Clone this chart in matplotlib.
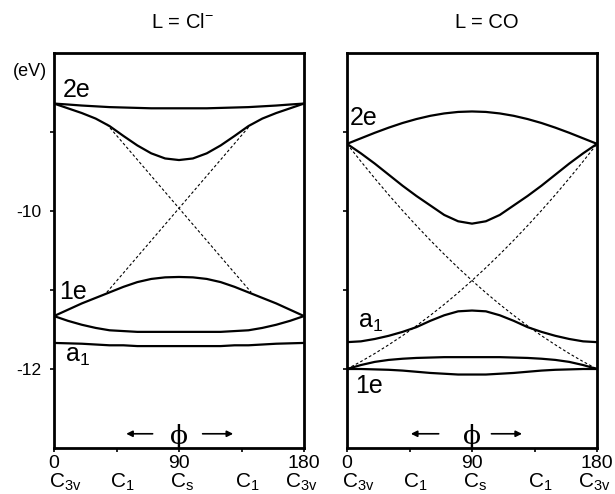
import numpy as np
import matplotlib
matplotlib.use('Agg')
import matplotlib.pyplot as plt

plt.rcParams['font.family'] = ['Liberation Sans', 'DejaVu Sans']
plt.rcParams['mathtext.fontset'] = 'custom'
plt.rcParams['mathtext.rm'] = 'Liberation Sans'
plt.rcParams['mathtext.it'] = 'Liberation Sans'

# угол phi, шаг 10 градусов
phi = list(range(0, 181, 10))

# --- L = Cl- ---
cl_2e_up = [-8.64, -8.652, -8.665, -8.675, -8.685, -8.69, -8.695, -8.70, -8.70, -8.70,
            -8.70, -8.70, -8.695, -8.69, -8.685, -8.675, -8.665, -8.652, -8.64]
cl_2e_lo = [-8.64, -8.70, -8.76, -8.83, -8.925, -9.05, -9.17, -9.27, -9.335, -9.355,
            -9.335, -9.27, -9.17, -9.05, -8.925, -8.83, -8.76, -8.70, -8.64]
cl_1e_up = [-11.33, -11.25, -11.17, -11.10, -11.03, -10.96, -10.90, -10.86, -10.84, -10.835,
            -10.84, -10.86, -10.90, -10.96, -11.03, -11.10, -11.17, -11.25, -11.33]
cl_1e_lo = [-11.33, -11.39, -11.44, -11.48, -11.51, -11.52, -11.53, -11.53, -11.53, -11.53,
            -11.53, -11.53, -11.53, -11.52, -11.51, -11.48, -11.44, -11.39, -11.33]
cl_a1 = [-11.67, -11.675, -11.68, -11.69, -11.70, -11.70, -11.71, -11.71, -11.71, -11.71,
         -11.71, -11.71, -11.71, -11.70, -11.70, -11.69, -11.68, -11.675, -11.67]
# пунктир (диабатические кривые), виден только между адиабатическими кривыми
cl_phi_d = [38, 142]
cl_d_up = [-11.03, -8.90]
cl_d_dn = [-8.90, -11.03]

# --- L = CO ---
co_2e_up = [-9.15, -9.08, -9.01, -8.945, -8.886, -8.836, -8.795, -8.765, -8.746, -8.74,
            -8.746, -8.765, -8.795, -8.836, -8.886, -8.945, -9.01, -9.08, -9.15]
co_2e_lo = [-9.15, -9.27, -9.40, -9.54, -9.68, -9.81, -9.93, -10.05, -10.13, -10.16,
            -10.13, -10.05, -9.93, -9.81, -9.68, -9.54, -9.40, -9.27, -9.15]
co_a1 = [-11.66, -11.65, -11.62, -11.58, -11.53, -11.47, -11.39, -11.32, -11.27, -11.26,
         -11.27, -11.32, -11.39, -11.47, -11.53, -11.58, -11.62, -11.65, -11.66]
co_1e_up = [-12.0, -11.95, -11.91, -11.885, -11.87, -11.86, -11.855, -11.85, -11.85, -11.85,
            -11.85, -11.85, -11.855, -11.86, -11.87, -11.885, -11.91, -11.95, -12.0]
co_1e_lo = [-12.0, -12.0, -12.005, -12.01, -12.02, -12.035, -12.05, -12.06, -12.07, -12.07,
            -12.07, -12.06, -12.05, -12.035, -12.02, -12.01, -12.005, -12.0, -12.0]
co_d_up = [-12.0, -11.906, -11.804, -11.694, -11.578, -11.453, -11.321, -11.182, -11.035, -10.88,
           -10.718, -10.548, -10.371, -10.186, -9.994, -9.795, -9.587, -9.372, -9.15]
co_d_dn = co_d_up[::-1]

titles = ['L = Cl$^{-}$', 'L = CO']
sym_labels = ['C$_\\mathrm{3v}$', 'C$_\\mathrm{1}$', 'C$_\\mathrm{s}$', 'C$_\\mathrm{1}$', 'C$_\\mathrm{3v}$']
sym_pos = [8, 49, 92, 139, 178]
# стрелки под phi: (левая, правая) для каждой панели
arrows = [((50, 73), (105, 131)), ((44, 68), (102, 128))]

fig = plt.figure(figsize=(6.15, 4.94), dpi=100)
ax1 = fig.add_axes([54 / 615, 46 / 494, 250 / 615, 395 / 494])
ax2 = fig.add_axes([347 / 615, 46 / 494, 250 / 615, 395 / 494])

lw = 1.6
dash = (0, (2.5, 2))
ax1.plot(cl_phi_d, cl_d_up, color='black', lw=0.8, ls=dash)
ax1.plot(cl_phi_d, cl_d_dn, color='black', lw=0.8, ls=dash)
for curve in [cl_2e_up, cl_2e_lo, cl_1e_up, cl_1e_lo, cl_a1]:
    ax1.plot(phi, curve, color='black', lw=lw, solid_joinstyle='round')

ax2.plot(phi, co_d_up, color='black', lw=0.8, ls=dash)
ax2.plot(phi, co_d_dn, color='black', lw=0.8, ls=dash)
for curve in [co_2e_up, co_2e_lo, co_a1, co_1e_up, co_1e_lo]:
    ax2.plot(phi, curve, color='black', lw=lw, solid_joinstyle='round')

for ax, arr in zip([ax1, ax2], arrows):
    ax.set_xlim(0, 180)
    ax.set_ylim(-13, -8)
    for sp in ax.spines.values():
        sp.set_linewidth(2.0)
    ax.set_xticks([0, 90, 180])
    ax.set_xticks([45, 135], minor=True)
    ax.set_xticklabels(['0', '90', '180'], fontsize=14)
    ax.set_yticks([-12, -11, -10, -9])
    ax.tick_params(axis='both', which='both', direction='out', length=3, width=1.2, pad=2)
    ax.tick_params(axis='y', pad=6)
    tr = ax.get_xaxis_transform()
    for lab, p in zip(sym_labels, sym_pos):
        ax.text(p, -0.088, lab, transform=tr, ha='center', va='center', fontsize=15)
    # стрелки и phi
    (l0, l1), (r0, r1) = arr
    ax.annotate('', xy=(l0, -12.82), xytext=(l1, -12.82),
                arrowprops=dict(arrowstyle='-|>', color='black', lw=1.2, mutation_scale=9))
    ax.annotate('', xy=(r1, -12.82), xytext=(r0, -12.82),
                arrowprops=dict(arrowstyle='-|>', color='black', lw=1.2, mutation_scale=9))
    ax.text(90, -12.85, 'ϕ', ha='center', va='center', fontsize=19, family=['DejaVu Serif'])

ax1.set_yticklabels(['-12', '', '-10', ''], fontsize=12.5)
ax2.set_yticklabels([])

fig.text(182 / 615, 1 - 23 / 494, titles[0], ha='center', va='center', fontsize=14.5)
fig.text(487 / 615, 1 - 23 / 494, titles[1], ha='center', va='center', fontsize=14.5)
fig.text(30 / 615, 1 - 71 / 494, '(eV)', ha='center', va='center', fontsize=13)

# подписи уровней
ax1.text(6, -8.47, '2e', ha='left', va='center', fontsize=18)
ax1.text(4, -11.02, '1e', ha='left', va='center', fontsize=18)
ax1.text(8, -11.84, 'a$_1$', ha='left', va='center', fontsize=18)
ax2.text(2, -8.82, '2e', ha='left', va='center', fontsize=18)
ax2.text(8, -11.41, 'a$_1$', ha='left', va='center', fontsize=18)
ax2.text(6, -12.21, '1e', ha='left', va='center', fontsize=18)

fig.savefig('out.png', dpi=100)
